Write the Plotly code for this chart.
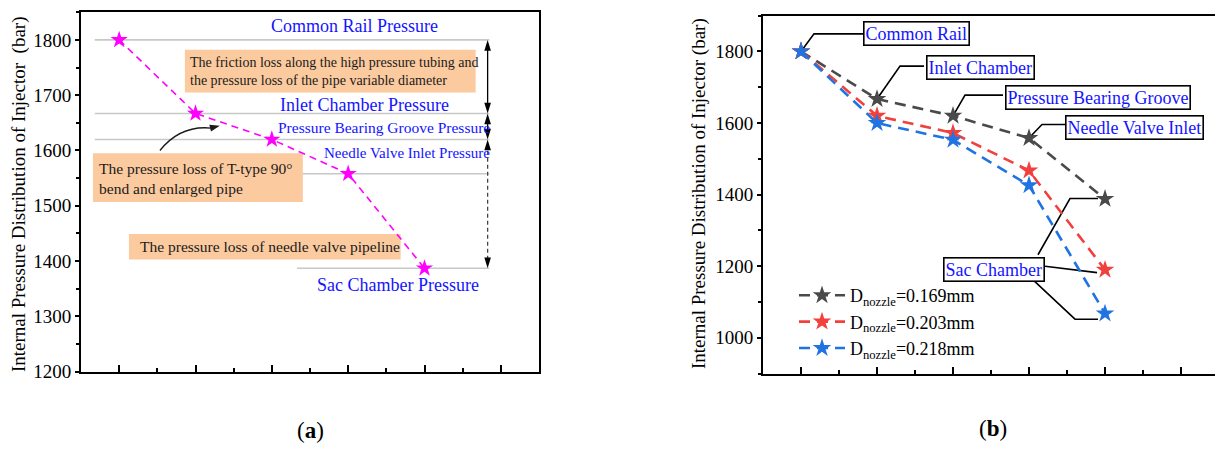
import plotly.graph_objects as go

# Measurement stations along the injector flow path
stations = [1, 2, 3, 4, 5]
station_names = ["Common Rail", "Inlet Chamber", "Pressure Bearing Groove",
                 "Needle Valve Inlet", "Sac Chamber"]

# (a) pressure at each station (bar)
pressure_a = [1800, 1667, 1620, 1558, 1387]

# (b) pressure at each station for three nozzle diameters (bar)
nozzle_d = ["0.169mm", "0.203mm", "0.218mm"]
p_d0169 = [1800, 1667, 1620, 1558, 1388]
p_d0203 = [1800, 1620, 1572, 1467, 1190]
p_d0218 = [1800, 1600, 1553, 1426, 1068]

loss_notes = [
    ["The friction loss along the high pressure tubing and",
     "the pressure loss of the pipe variable diameter"],
    ["The pressure loss of T-type 90°", "bend and enlarged pipe"],
    ["The pressure loss of needle valve pipeline"],
]

FONT = "Liberation Serif, Times New Roman, serif"
W, H = 1215, 449
BLUE_TXT = "#1414FF"
series_colors = ["#4A4A4A", "#F2403C", "#1F74E2"]

# panel (a) plot area in pixels and its axis ranges
A_X0, A_X1, A_Y0, A_Y1 = 81, 539, 12, 381
A_XR, A_YR = [0.5, 6.5], [1200, 1851]
SX = (A_X1 - A_X0) / (A_XR[1] - A_XR[0])   # px per station
SY = (A_Y1 - A_Y0) / (A_YR[1] - A_YR[0])   # px per bar


def px_x(px):
    return px / W


def px_y(py):
    return 1 - py / H


def head_path(x, y, ux, uy, length=10, half=3.5):
    """Filled arrowhead with its tip at data point (x, y), pointing along
    the screen-space direction (ux, uy) (y grows downward)."""
    n = (ux ** 2 + uy ** 2) ** 0.5
    ux, uy = ux / n, uy / n
    bx, by = -length * ux, -length * uy
    px_, py_ = -uy * half, ux * half
    pts = [(x, y),
           (x + (bx + px_) / SX, y - (by + py_) / SY),
           (x + (bx - px_) / SX, y - (by - py_) / SY)]
    return "M " + " L ".join(f"{a:.4f},{b:.3f}" for a, b in pts) + " Z"


fig = go.Figure()

# ---- panel (a)
fig.add_trace(go.Scatter(
    x=stations, y=pressure_a, mode="lines+markers",
    line=dict(color="#FF00FF", width=1.6, dash="7px,5px"),
    marker=dict(symbol="star", size=13, color="#FF00FF", line=dict(width=0)),
    xaxis="x", yaxis="y", showlegend=False, hoverinfo="x+y"))

# ---- panel (b)
for vals, d, c in zip([p_d0169, p_d0203, p_d0218], nozzle_d, series_colors):
    fig.add_trace(go.Scatter(
        x=stations, y=vals, mode="lines+markers",
        name="D<sub>nozzle</sub>=" + d,
        line=dict(color=c, width=2.6, dash="11px,7px"),
        marker=dict(symbol="star", size=14, color=c, line=dict(width=0)),
        xaxis="x2", yaxis="y2"))

axis_common = dict(showline=True, linewidth=2, linecolor="black",
                   showgrid=False, zeroline=False,
                   tickfont=dict(family=FONT, size=19, color="black"))

fig.update_layout(
    width=W, height=H,
    margin=dict(l=0, r=0, t=0, b=0),
    paper_bgcolor="white", plot_bgcolor="white",
    font=dict(family=FONT, color="black"),
    xaxis=dict(domain=[px_x(A_X0), px_x(A_X1)], range=A_XR, anchor="y",
               mirror=True, ticks="inside", ticklen=7, tickwidth=2,
               tickcolor="black", dtick=1, tick0=0, showticklabels=False,
               minor=dict(ticks="inside", ticklen=4, tickwidth=2,
                          tickcolor="black", dtick=0.5, tick0=0.5),
               **axis_common),
    yaxis=dict(domain=[px_y(A_Y1), px_y(A_Y0)], range=A_YR, anchor="x",
               mirror=True, ticks="outside", ticklen=4, tickwidth=2,
               tickcolor="black", dtick=100, tick0=0,
               minor=dict(ticks="outside", ticklen=3, tickwidth=2,
                          tickcolor="black", dtick=50, tick0=0),
               **axis_common),
    xaxis2=dict(domain=[px_x(763), 1], range=[0.5, 6.447], anchor="y2",
                mirror=True, ticks="inside", ticklen=7, tickwidth=2,
                tickcolor="black", dtick=1, tick0=0, showticklabels=False,
                minor=dict(ticks="inside", ticklen=4, tickwidth=2,
                           tickcolor="black", dtick=0.5, tick0=0.5),
                **axis_common),
    yaxis2=dict(domain=[px_y(383), px_y(16)], range=[900, 1900], anchor="x2",
                mirror=False, ticks="outside", ticklen=4, tickwidth=2,
                tickcolor="black", dtick=200, tick0=0,
                minor=dict(ticks="outside", ticklen=3, tickwidth=2,
                           tickcolor="black", dtick=100, tick0=0),
                **axis_common),
    legend=dict(x=px_x(794), y=px_y(284), xanchor="left", yanchor="top",
                bgcolor="rgba(0,0,0,0)", borderwidth=0, itemwidth=46,
                font=dict(family=FONT, size=18, color="black"),
                tracegroupgap=0),
)

shapes = []
ann = []

# reference levels in panel (a)
level_start = [0.68, 0.68, 0.68, 3.33, 3.33]
for y, xs in zip(pressure_a, level_start):
    shapes.append(dict(type="line", xref="x", yref="y", x0=xs, x1=5.85,
                       y0=y, y1=y, line=dict(color="#C8C8C8", width=1.6),
                       layer="below"))

# station labels in panel (a)
label_pos = [(4.086, 1825, 18), (4.217, 1682, 18), (4.466, 1641, 15.5),
             (4.767, 1595, 15), (4.649, 1357, 18)]
for name, (lx, ly, fs) in zip(station_names, label_pos):
    ann.append(dict(x=lx, y=ly, xref="x", yref="y", text=name + " Pressure",
                    showarrow=False, xanchor="center", yanchor="middle",
                    font=dict(family=FONT, size=fs, color=BLUE_TXT)))

# loss note boxes
note_boxes = [
    dict(x0=1.861, x1=5.670, y0=1705, y1=1782, tx=1.90, ty=[1759, 1726], fs=14),
    dict(x0=0.657, x1=3.406, y0=1507, y1=1595, tx=0.71, ty=[1567, 1532], fs=15.5),
    dict(x0=1.128, x1=4.688, y0=1403, y1=1449, tx=1.245, ty=[1426], fs=15.5),
]
for note, b in zip(loss_notes, note_boxes):
    shapes.append(dict(type="rect", xref="x", yref="y", x0=b["x0"], x1=b["x1"],
                       y0=b["y0"], y1=b["y1"], fillcolor="#FBCA9F",
                       line=dict(width=0), layer="below"))
    for line_txt, ty in zip(note, b["ty"]):
        ann.append(dict(x=b["tx"], y=ty, xref="x", yref="y", text=line_txt,
                        showarrow=False, xanchor="left", yanchor="middle",
                        font=dict(family=FONT, size=b["fs"], color="#1A1A1A")))

# curved pointer from the T-type note
shapes.append(dict(type="path", xref="x", yref="y",
                   path="M 1.534,1600 Q 1.80,1646 2.206,1640.5",
                   line=dict(color="#1A1A1A", width=1.3)))
shapes.append(dict(type="path", xref="x", yref="y",
                   path=head_path(2.319, 1644.7, 16, -4, length=10, half=3.5),
                   fillcolor="#1A1A1A", line=dict(width=0)))

# vertical loss spans with arrowheads at both ends
vx = 5.827
spans = [(pressure_a[0], pressure_a[1], None, "black"),
         (pressure_a[1], pressure_a[2], None, "black"),
         (pressure_a[2], pressure_a[4], "4px,3px", "#444444")]
for top, bot, dash, col in spans:
    shapes.append(dict(type="line", xref="x", yref="y", x0=vx, x1=vx,
                       y0=top - 8, y1=bot + 8,
                       line=dict(color=col, width=1.3, dash=dash or "solid")))
    shapes.append(dict(type="path", xref="x", yref="y",
                       path=head_path(vx, top, 0, -1, length=11, half=3.3),
                       fillcolor="black", line=dict(width=0)))
    shapes.append(dict(type="path", xref="x", yref="y",
                       path=head_path(vx, bot, 0, 1, length=11, half=3.3),
                       fillcolor="black", line=dict(width=0)))

# ---- panel (b) callouts
box_pos = [(2.526, 1849), (3.368, 1756), (4.901, 1672), (5.382, 1588), (3.533, 1191)]
for name, (bx, by) in zip(station_names, box_pos):
    ann.append(dict(x=bx, y=by, xref="x2", yref="y2", text=name,
                    showarrow=False, xanchor="center", yanchor="middle",
                    bgcolor="white", bordercolor="black", borderwidth=1.6,
                    borderpad=1,
                    font=dict(family=FONT, size=18, color=BLUE_TXT)))

leader_paths = [
    [(stations[0], p_d0169[0]), (1.171, 1849), (1.829, 1849)],
    [(stations[1], p_d0169[1]), (2.303, 1759), (2.618, 1759)],
    [(stations[2], p_d0169[2]), (3.158, 1678), (3.658, 1678)],
    [(stations[3], p_d0169[3]), (4.171, 1596), (4.50, 1596)],
    [(4.118, 1232), (4.539, 1389), (4.908, 1389)],
    [(4.211, 1200), (4.895, 1182)],
    [(4.053, 1162), (4.605, 1052), (4.908, 1052)],
]
for pts in leader_paths:
    d = "M " + " L ".join(f"{x},{y}" for x, y in pts)
    shapes.append(dict(type="path", xref="x2", yref="y2", path=d,
                       line=dict(color="black", width=1.6), layer="below"))

# axis titles
ytitle = "Internal Pressure Distribution of Injector"
ann.append(dict(x=px_x(19), y=px_y(199), xref="paper", yref="paper",
                xanchor="center", yanchor="middle",
                text=ytitle + "\u00a0\u00a0(bar)", textangle=-90, showarrow=False,
                font=dict(family=FONT, size=19, color="black")))
ann.append(dict(x=px_x(699), y=px_y(199), xref="paper", yref="paper",
                xanchor="center", yanchor="middle",
                text=ytitle + " (bar)", textangle=-90, showarrow=False,
                font=dict(family=FONT, size=19, color="black")))

# panel captions
ann.append(dict(x=px_x(310), y=px_y(441), xref="paper", yref="paper",
                xanchor="center", yanchor="middle",
                text="(<b>a</b>)", showarrow=False,
                font=dict(family=FONT, size=23, color="black")))
ann.append(dict(x=px_x(993), y=px_y(439), xref="paper", yref="paper",
                xanchor="center", yanchor="middle",
                text="(<b>b</b>)", showarrow=False,
                font=dict(family=FONT, size=23, color="black")))

fig.update_layout(shapes=shapes, annotations=ann)
fig.write_html("out.html")
